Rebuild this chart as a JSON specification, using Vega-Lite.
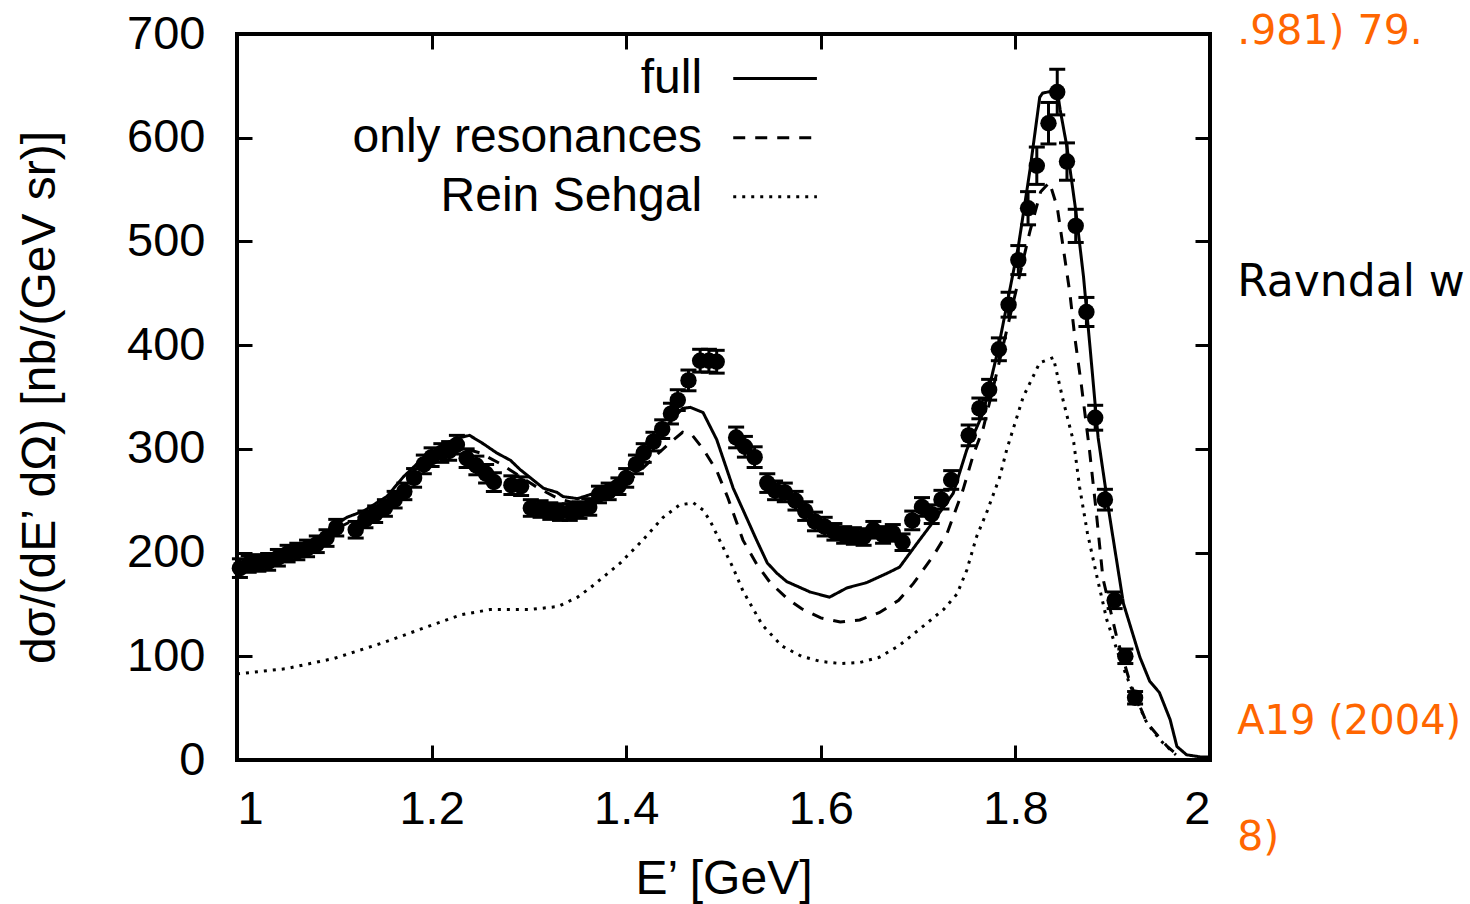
{
 "$schema": "https://vega.github.io/schema/vega-lite/v6.json",
 "width": 973,
 "height": 726,
 "autosize": {"type": "none"},
 "padding": {"left": 237, "top": 34, "right": 260, "bottom": 144},
 "background": "white",
 "config": {
  "view": {"stroke": "black", "strokeWidth": 4},
  "axis": {"domain": false, "grid": false, "tickColor": "black", "tickWidth": 3, "tickSize": 15,
   "labelFont": "Liberation Sans", "labelFontSize": 47, "labelColor": "black",
   "titleFont": "Liberation Sans", "titleFontSize": 48, "titleFontWeight": "normal", "titleColor": "black"}
 },
 "datasets": {
  "curves": [
   {"E":1.0,"v":186,"series":"full"},{"E":1.02,"v":190,"series":"full"},{"E":1.04,"v":195,"series":"full"},{"E":1.06,"v":201,"series":"full"},{"E":1.08,"v":210,"series":"full"},{"E":1.1,"v":226,"series":"full"},{"E":1.113,"v":234,"series":"full"},{"E":1.13,"v":240,"series":"full"},{"E":1.154,"v":254,"series":"full"},{"E":1.171,"v":273,"series":"full"},{"E":1.19,"v":290,"series":"full"},{"E":1.21,"v":303,"series":"full"},{"E":1.225,"v":310,"series":"full"},{"E":1.239,"v":313,"series":"full"},{"E":1.253,"v":305,"series":"full"},{"E":1.267,"v":296,"series":"full"},{"E":1.281,"v":289,"series":"full"},{"E":1.291,"v":280,"series":"full"},{"E":1.303,"v":271,"series":"full"},{"E":1.315,"v":262,"series":"full"},{"E":1.329,"v":258,"series":"full"},{"E":1.335,"v":254,"series":"full"},{"E":1.35,"v":252,"series":"full"},{"E":1.37,"v":258,"series":"full"},{"E":1.39,"v":270,"series":"full"},{"E":1.41,"v":288,"series":"full"},{"E":1.43,"v":308,"series":"full"},{"E":1.445,"v":326,"series":"full"},{"E":1.458,"v":339,"series":"full"},{"E":1.466,"v":340,"series":"full"},{"E":1.479,"v":335,"series":"full"},{"E":1.493,"v":309,"series":"full"},{"E":1.51,"v":262,"series":"full"},{"E":1.523,"v":235,"series":"full"},{"E":1.534,"v":212,"series":"full"},{"E":1.545,"v":190,"series":"full"},{"E":1.555,"v":180,"series":"full"},{"E":1.565,"v":172,"series":"full"},{"E":1.589,"v":162,"series":"full"},{"E":1.609,"v":157,"series":"full"},{"E":1.627,"v":166,"series":"full"},{"E":1.647,"v":171,"series":"full"},{"E":1.668,"v":180,"series":"full"},{"E":1.681,"v":186,"series":"full"},{"E":1.699,"v":209,"series":"full"},{"E":1.715,"v":229,"series":"full"},{"E":1.736,"v":257,"series":"full"},{"E":1.75,"v":299,"series":"full"},{"E":1.767,"v":335,"series":"full"},{"E":1.782,"v":395,"series":"full"},{"E":1.803,"v":495,"series":"full"},{"E":1.815,"v":569,"series":"full"},{"E":1.825,"v":639,"series":"full"},{"E":1.828,"v":643,"series":"full"},{"E":1.843,"v":646,"series":"full"},{"E":1.846,"v":627,"series":"full"},{"E":1.853,"v":591,"series":"full"},{"E":1.862,"v":530,"series":"full"},{"E":1.87,"v":466,"series":"full"},{"E":1.877,"v":395,"series":"full"},{"E":1.885,"v":311,"series":"full"},{"E":1.897,"v":234,"series":"full"},{"E":1.911,"v":151,"series":"full"},{"E":1.928,"v":99,"series":"full"},{"E":1.938,"v":76,"series":"full"},{"E":1.948,"v":65,"series":"full"},{"E":1.959,"v":39,"series":"full"},{"E":1.966,"v":13,"series":"full"},{"E":1.976,"v":5,"series":"full"},{"E":1.99,"v":3,"series":"full"},{"E":2.0,"v":3,"series":"full"},
   {"E":1.0,"v":185,"series":"only resonances"},{"E":1.03,"v":190,"series":"only resonances"},{"E":1.06,"v":200,"series":"only resonances"},{"E":1.1,"v":222,"series":"only resonances"},{"E":1.13,"v":236,"series":"only resonances"},{"E":1.16,"v":255,"series":"only resonances"},{"E":1.19,"v":280,"series":"only resonances"},{"E":1.215,"v":295,"series":"only resonances"},{"E":1.235,"v":300,"series":"only resonances"},{"E":1.25,"v":296,"series":"only resonances"},{"E":1.27,"v":286,"series":"only resonances"},{"E":1.29,"v":274,"series":"only resonances"},{"E":1.31,"v":262,"series":"only resonances"},{"E":1.33,"v":252,"series":"only resonances"},{"E":1.35,"v":247,"series":"only resonances"},{"E":1.37,"v":250,"series":"only resonances"},{"E":1.39,"v":260,"series":"only resonances"},{"E":1.41,"v":275,"series":"only resonances"},{"E":1.43,"v":293,"series":"only resonances"},{"E":1.445,"v":306,"series":"only resonances"},{"E":1.458,"v":316,"series":"only resonances"},{"E":1.468,"v":313,"series":"only resonances"},{"E":1.479,"v":300,"series":"only resonances"},{"E":1.493,"v":279,"series":"only resonances"},{"E":1.504,"v":254,"series":"only resonances"},{"E":1.52,"v":212,"series":"only resonances"},{"E":1.534,"v":189,"series":"only resonances"},{"E":1.548,"v":171,"series":"only resonances"},{"E":1.565,"v":156,"series":"only resonances"},{"E":1.58,"v":146,"series":"only resonances"},{"E":1.6,"v":137,"series":"only resonances"},{"E":1.62,"v":133,"series":"only resonances"},{"E":1.64,"v":135,"series":"only resonances"},{"E":1.66,"v":142,"series":"only resonances"},{"E":1.68,"v":154,"series":"only resonances"},{"E":1.695,"v":170,"series":"only resonances"},{"E":1.715,"v":196,"series":"only resonances"},{"E":1.73,"v":219,"series":"only resonances"},{"E":1.746,"v":260,"series":"only resonances"},{"E":1.757,"v":295,"series":"only resonances"},{"E":1.767,"v":320,"series":"only resonances"},{"E":1.78,"v":370,"series":"only resonances"},{"E":1.8,"v":450,"series":"only resonances"},{"E":1.815,"v":510,"series":"only resonances"},{"E":1.826,"v":548,"series":"only resonances"},{"E":1.835,"v":557,"series":"only resonances"},{"E":1.843,"v":533,"series":"only resonances"},{"E":1.849,"v":495,"series":"only resonances"},{"E":1.856,"v":450,"series":"only resonances"},{"E":1.861,"v":408,"series":"only resonances"},{"E":1.868,"v":360,"series":"only resonances"},{"E":1.876,"v":300,"series":"only resonances"},{"E":1.883,"v":240,"series":"only resonances"},{"E":1.89,"v":175,"series":"only resonances"},{"E":1.904,"v":119,"series":"only resonances"},{"E":1.918,"v":74,"series":"only resonances"},{"E":1.935,"v":36,"series":"only resonances"},{"E":1.956,"v":13,"series":"only resonances"},{"E":1.97,"v":2,"series":"only resonances"},
   {"E":1.0,"v":83,"series":"Rein Sehgal"},{"E":1.05,"v":88,"series":"Rein Sehgal"},{"E":1.1,"v":98,"series":"Rein Sehgal"},{"E":1.15,"v":113,"series":"Rein Sehgal"},{"E":1.2,"v":130,"series":"Rein Sehgal"},{"E":1.23,"v":140,"series":"Rein Sehgal"},{"E":1.26,"v":145,"series":"Rein Sehgal"},{"E":1.3,"v":145,"series":"Rein Sehgal"},{"E":1.33,"v":148,"series":"Rein Sehgal"},{"E":1.35,"v":157,"series":"Rein Sehgal"},{"E":1.363,"v":166,"series":"Rein Sehgal"},{"E":1.394,"v":190,"series":"Rein Sehgal"},{"E":1.417,"v":212,"series":"Rein Sehgal"},{"E":1.438,"v":234,"series":"Rein Sehgal"},{"E":1.455,"v":246,"series":"Rein Sehgal"},{"E":1.469,"v":248,"series":"Rein Sehgal"},{"E":1.479,"v":241,"series":"Rein Sehgal"},{"E":1.486,"v":231,"series":"Rein Sehgal"},{"E":1.496,"v":212,"series":"Rein Sehgal"},{"E":1.51,"v":185,"series":"Rein Sehgal"},{"E":1.52,"v":163,"series":"Rein Sehgal"},{"E":1.54,"v":130,"series":"Rein Sehgal"},{"E":1.56,"v":110,"series":"Rein Sehgal"},{"E":1.58,"v":100,"series":"Rein Sehgal"},{"E":1.6,"v":95,"series":"Rein Sehgal"},{"E":1.62,"v":93,"series":"Rein Sehgal"},{"E":1.64,"v":94,"series":"Rein Sehgal"},{"E":1.66,"v":99,"series":"Rein Sehgal"},{"E":1.68,"v":110,"series":"Rein Sehgal"},{"E":1.7,"v":125,"series":"Rein Sehgal"},{"E":1.726,"v":145,"series":"Rein Sehgal"},{"E":1.74,"v":160,"series":"Rein Sehgal"},{"E":1.75,"v":183,"series":"Rein Sehgal"},{"E":1.76,"v":215,"series":"Rein Sehgal"},{"E":1.771,"v":240,"series":"Rein Sehgal"},{"E":1.784,"v":273,"series":"Rein Sehgal"},{"E":1.791,"v":299,"series":"Rein Sehgal"},{"E":1.808,"v":350,"series":"Rein Sehgal"},{"E":1.825,"v":383,"series":"Rein Sehgal"},{"E":1.839,"v":388,"series":"Rein Sehgal"},{"E":1.849,"v":347,"series":"Rein Sehgal"},{"E":1.86,"v":306,"series":"Rein Sehgal"},{"E":1.866,"v":263,"series":"Rein Sehgal"},{"E":1.874,"v":219,"series":"Rein Sehgal"},{"E":1.884,"v":176,"series":"Rein Sehgal"},{"E":1.894,"v":135,"series":"Rein Sehgal"},{"E":1.908,"v":96,"series":"Rein Sehgal"},{"E":1.921,"v":65,"series":"Rein Sehgal"},{"E":1.935,"v":36,"series":"Rein Sehgal"},{"E":1.949,"v":19,"series":"Rein Sehgal"},{"E":1.959,"v":10,"series":"Rein Sehgal"},{"E":1.965,"v":5,"series":"Rein Sehgal"}
  ],
  "points": [
   {"E":1.003,"v":185,"err":9},{"E":1.012,"v":189,"err":8},{"E":1.022,"v":190,"err":8},{"E":1.032,"v":191,"err":8},{"E":1.042,"v":195,"err":8},{"E":1.052,"v":199,"err":8},{"E":1.062,"v":201,"err":8},{"E":1.072,"v":204,"err":8},{"E":1.082,"v":208,"err":8},{"E":1.092,"v":214,"err":8},{"E":1.102,"v":224,"err":8},{"E":1.122,"v":222,"err":8},{"E":1.132,"v":232,"err":8},{"E":1.142,"v":237,"err":8},{"E":1.152,"v":243,"err":8},{"E":1.162,"v":251,"err":8},{"E":1.172,"v":259,"err":8},{"E":1.182,"v":272,"err":9},{"E":1.192,"v":285,"err":9},{"E":1.2,"v":292,"err":9},{"E":1.21,"v":296,"err":9},{"E":1.218,"v":298,"err":9},{"E":1.226,"v":304,"err":9},{"E":1.236,"v":291,"err":9},{"E":1.246,"v":284,"err":9},{"E":1.256,"v":276,"err":9},{"E":1.264,"v":268,"err":9},{"E":1.282,"v":265,"err":9},{"E":1.292,"v":264,"err":9},{"E":1.302,"v":243,"err":8},{"E":1.312,"v":242,"err":8},{"E":1.322,"v":240,"err":8},{"E":1.332,"v":239,"err":8},{"E":1.342,"v":239,"err":8},{"E":1.352,"v":241,"err":8},{"E":1.362,"v":244,"err":8},{"E":1.372,"v":256,"err":8},{"E":1.382,"v":259,"err":8},{"E":1.392,"v":264,"err":8},{"E":1.4,"v":272,"err":9},{"E":1.41,"v":285,"err":9},{"E":1.418,"v":296,"err":9},{"E":1.428,"v":307,"err":9},{"E":1.437,"v":319,"err":9},{"E":1.446,"v":334,"err":10},{"E":1.453,"v":347,"err":10},{"E":1.464,"v":366,"err":10},{"E":1.476,"v":385,"err":11},{"E":1.485,"v":385,"err":11},{"E":1.493,"v":384,"err":11},{"E":1.513,"v":311,"err":10},{"E":1.522,"v":302,"err":10},{"E":1.532,"v":292,"err":10},{"E":1.545,"v":267,"err":9},{"E":1.553,"v":260,"err":9},{"E":1.563,"v":258,"err":9},{"E":1.574,"v":250,"err":9},{"E":1.584,"v":240,"err":9},{"E":1.594,"v":230,"err":9},{"E":1.604,"v":225,"err":9},{"E":1.614,"v":220,"err":8},{"E":1.624,"v":217,"err":8},{"E":1.634,"v":216,"err":8},{"E":1.644,"v":215,"err":8},{"E":1.654,"v":222,"err":8},{"E":1.664,"v":217,"err":8},{"E":1.674,"v":219,"err":8},{"E":1.684,"v":210,"err":8},{"E":1.694,"v":231,"err":9},{"E":1.704,"v":244,"err":9},{"E":1.714,"v":237,"err":9},{"E":1.724,"v":251,"err":9},{"E":1.734,"v":270,"err":9},{"E":1.752,"v":313,"err":10},{"E":1.763,"v":339,"err":10},{"E":1.773,"v":357,"err":10},{"E":1.783,"v":396,"err":11},{"E":1.793,"v":439,"err":12},{"E":1.803,"v":482,"err":14},{"E":1.813,"v":532,"err":16},{"E":1.822,"v":573,"err":18},{"E":1.834,"v":614,"err":20},{"E":1.843,"v":644,"err":22},{"E":1.853,"v":577,"err":18},{"E":1.862,"v":515,"err":16},{"E":1.873,"v":432,"err":14},{"E":1.882,"v":330,"err":12},{"E":1.892,"v":251,"err":10},{"E":1.902,"v":154,"err":8},{"E":1.913,"v":100,"err":7},{"E":1.923,"v":60,"err":6}
  ]
 },
 "resolve": {"axis": {"x": "independent", "y": "independent"}},
 "layer": [
  {
   "data": {"name": "curves"},
   "mark": {"type": "line", "color": "black", "strokeWidth": 3},
   "encoding": {
    "x": {"field": "E", "type": "quantitative", "scale": {"domain": [1, 2], "nice": false, "zero": false},
     "axis": {"orient": "bottom", "values": [1, 1.2, 1.4, 1.6, 1.8, 2], "format": "~g", "title": "E’ [GeV]", "ticks": false, "labelPadding": 26, "titlePadding": 23}},
    "y": {"field": "v", "type": "quantitative", "scale": {"domain": [0, 700], "nice": false},
     "axis": {"orient": "left", "values": [0, 100, 200, 300, 400, 500, 600, 700], "format": "d", "title": "dσ/(dE’ dΩ) [nb/(GeV sr)]", "ticks": false, "labelPadding": 32, "titlePadding": 62}},
    "strokeDash": {"field": "series", "type": "nominal",
     "scale": {"domain": ["full", "only resonances", "Rein Sehgal"], "range": [[1, 0], [12, 10], [3, 6]]}, "legend": null}
   }
  },
  {
   "data": {"name": "points"},
   "mark": {"type": "errorbar", "color": "black", "thickness": 3, "ticks": {"size": 16, "color": "black", "opacity": 1}, "rule": {"color": "black", "opacity": 1}},
   "encoding": {
    "x": {"field": "E", "type": "quantitative", "axis": {"orient": "top", "offset": -726, "values": [1.2, 1.4, 1.6, 1.8], "labels": false, "title": null}},
    "y": {"field": "v", "type": "quantitative", "axis": {"orient": "right", "offset": -973, "values": [100, 200, 300, 400, 500, 600], "labels": false, "title": null}},
    "yError": {"field": "err"}
   }
  },
  {
   "data": {"name": "points"},
   "mark": {"type": "point", "filled": true, "shape": "circle", "size": 270, "color": "black", "opacity": 1},
   "encoding": {
    "x": {"field": "E", "type": "quantitative", "axis": {"orient": "bottom", "offset": -726, "values": [1.2, 1.4, 1.6, 1.8], "labels": false, "title": null}},
    "y": {"field": "v", "type": "quantitative", "axis": {"orient": "left", "offset": -973, "values": [100, 200, 300, 400, 500, 600], "labels": false, "title": null}}
   }
  },
  {
   "data": {"values": [{}]},
   "mark": {"type": "text", "align": "right", "baseline": "middle", "font": "Liberation Sans", "fontSize": 48, "color": "black", "text": "full"},
   "encoding": {"x": {"datum": 1.478, "type": "quantitative", "axis": null}, "y": {"datum": 657, "type": "quantitative", "axis": null}}
  },
  {
   "data": {"values": [{}]},
   "mark": {"type": "text", "align": "right", "baseline": "middle", "font": "Liberation Sans", "fontSize": 48, "color": "black", "text": "only resonances"},
   "encoding": {"x": {"datum": 1.478, "type": "quantitative", "axis": null}, "y": {"datum": 600, "type": "quantitative", "axis": null}}
  },
  {
   "data": {"values": [{}]},
   "mark": {"type": "text", "align": "right", "baseline": "middle", "font": "Liberation Sans", "fontSize": 48, "color": "black", "text": "Rein Sehgal"},
   "encoding": {"x": {"datum": 1.478, "type": "quantitative", "axis": null}, "y": {"datum": 543, "type": "quantitative", "axis": null}}
  },
  {
   "data": {"values": [{}]},
   "mark": {"type": "rule", "color": "black", "strokeWidth": 3},
   "encoding": {"x": {"datum": 1.51, "type": "quantitative", "axis": null}, "x2": {"datum": 1.596}, "y": {"datum": 657, "type": "quantitative", "axis": null}}
  },
  {
   "data": {"values": [{}]},
   "mark": {"type": "rule", "color": "black", "strokeWidth": 3, "strokeDash": [12, 10]},
   "encoding": {"x": {"datum": 1.51, "type": "quantitative", "axis": null}, "x2": {"datum": 1.596}, "y": {"datum": 600, "type": "quantitative", "axis": null}}
  },
  {
   "data": {"values": [{}]},
   "mark": {"type": "rule", "color": "black", "strokeWidth": 3, "strokeDash": [3, 6]},
   "encoding": {"x": {"datum": 1.51, "type": "quantitative", "axis": null}, "x2": {"datum": 1.596}, "y": {"datum": 543, "type": "quantitative", "axis": null}}
  },
  {
   "data": {"values": [{}]},
   "mark": {"type": "text", "align": "left", "baseline": "middle", "font": "DejaVu Sans", "fontSize": 41, "color": "#ff6600", "text": ".981) 79."},
   "encoding": {"x": {"datum": 2.028, "type": "quantitative", "axis": null}, "y": {"datum": 702, "type": "quantitative", "axis": null}}
  },
  {
   "data": {"values": [{}]},
   "mark": {"type": "text", "align": "left", "baseline": "middle", "font": "DejaVu Sans", "fontSize": 44, "color": "black", "text": "Ravndal w"},
   "encoding": {"x": {"datum": 2.028, "type": "quantitative", "axis": null}, "y": {"datum": 460, "type": "quantitative", "axis": null}}
  },
  {
   "data": {"values": [{}]},
   "mark": {"type": "text", "align": "left", "baseline": "middle", "font": "DejaVu Sans", "fontSize": 40, "color": "#ff6600", "text": "A19 (2004)"},
   "encoding": {"x": {"datum": 2.028, "type": "quantitative", "axis": null}, "y": {"datum": 37, "type": "quantitative", "axis": null}}
  },
  {
   "data": {"values": [{}]},
   "mark": {"type": "text", "align": "left", "baseline": "middle", "font": "DejaVu Sans", "fontSize": 41, "color": "#ff6600", "text": "8)"},
   "encoding": {"x": {"datum": 2.028, "type": "quantitative", "axis": null}, "y": {"datum": -75, "type": "quantitative", "axis": null}}
  }
 ]
}
